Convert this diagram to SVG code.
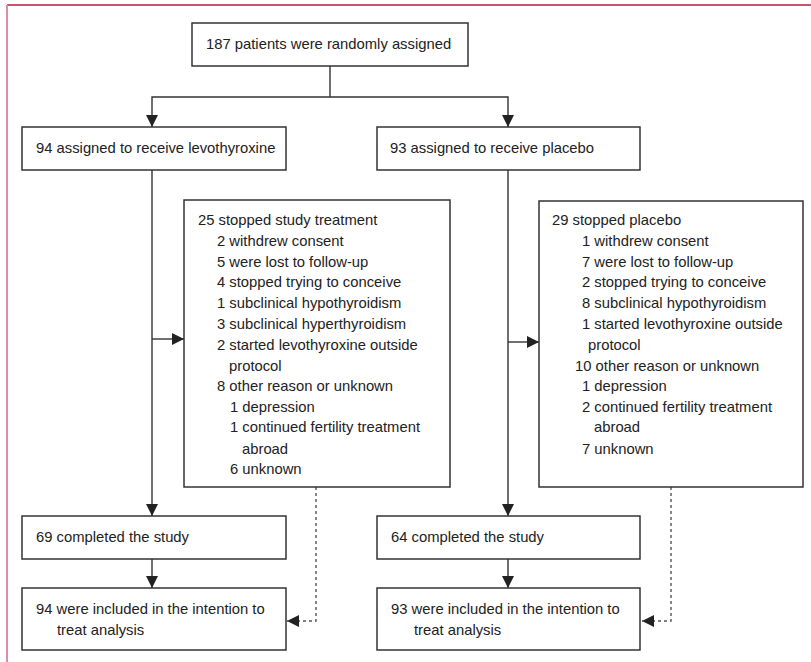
<svg xmlns="http://www.w3.org/2000/svg" width="811" height="662" viewBox="0 0 811 662">
<style>
  .box { fill: #ffffff; stroke: #333333; stroke-width: 1.5; }
  .t { font-family: "Liberation Sans", Arial, sans-serif; font-size: 14.8px; fill: #222222; }
  .ln { fill: none; stroke: #333333; stroke-width: 1.4; }
  .dash { fill: none; stroke: #555555; stroke-width: 1.4; stroke-dasharray: 3 3; }
</style>
<defs>
  <marker id="ah" viewBox="0 0 10 10" markerWidth="12" markerHeight="12" refX="10" refY="5" orient="auto" markerUnits="userSpaceOnUse">
    <path d="M0,0 L10,5 L0,10 z" fill="#222222"/>
  </marker>
</defs>
<rect width="811" height="662" fill="#ffffff"/>
<g id="frame">
  <line x1="7" y1="5" x2="811" y2="5" stroke="#b8183f" stroke-width="1.5"/>
  <line x1="7" y1="5" x2="7" y2="662" stroke="#e08aa3" stroke-width="2"/>
</g>
<g id="connectors">
  <path class="ln" d="M330 66 V97"/>
  <path class="ln" d="M330 97 H152 V127" marker-end="url(#ah)"/>
  <path class="ln" d="M330 97 H508 V127" marker-end="url(#ah)"/>
  <path class="ln" d="M152 170 V516" marker-end="url(#ah)"/>
  <path class="ln" d="M152 339 H184" marker-end="url(#ah)"/>
  <path class="ln" d="M508 170 V516" marker-end="url(#ah)"/>
  <path class="ln" d="M508 342 H539" marker-end="url(#ah)"/>
  <path class="ln" d="M152 559 V588" marker-end="url(#ah)"/>
  <path class="ln" d="M508 559 V588" marker-end="url(#ah)"/>
  <path class="dash" d="M316 487 V621 H287" marker-end="url(#ah)"/>
  <path class="dash" d="M671 487 V621 H642" marker-end="url(#ah)"/>
</g>
<g id="randomised">
  <rect class="box" x="192" y="23" width="276" height="43"/>
  <text class="t" x="206" y="49">187 patients were randomly assigned</text>
</g>
<g id="levo-assigned">
  <rect class="box" x="22" y="127" width="264" height="43"/>
  <text class="t" x="36" y="153">94 assigned to receive levothyroxine</text>
</g>
<g id="placebo-assigned">
  <rect class="box" x="377" y="127" width="263" height="43"/>
  <text class="t" x="390" y="153">93 assigned to receive placebo</text>
</g>
<g id="levo-stopped">
  <rect class="box" x="184" y="200" width="266" height="287"/>
  <text class="t">
    <tspan x="198" y="225">25 stopped study treatment</tspan>
    <tspan x="217" y="246">2 withdrew consent</tspan>
    <tspan x="217" y="267">5 were lost to follow-up</tspan>
    <tspan x="217" y="287">4 stopped trying to conceive</tspan>
    <tspan x="217" y="308">1 subclinical hypothyroidism</tspan>
    <tspan x="217" y="329">3 subclinical hyperthyroidism</tspan>
    <tspan x="217" y="350">2 started levothyroxine outside</tspan>
    <tspan x="229" y="371">protocol</tspan>
    <tspan x="217" y="391">8 other reason or unknown</tspan>
    <tspan x="230" y="412">1 depression</tspan>
    <tspan x="230" y="432">1 continued fertility treatment</tspan>
    <tspan x="242" y="454">abroad</tspan>
    <tspan x="230" y="474">6 unknown</tspan>
  </text>
</g>
<g id="placebo-stopped">
  <rect class="box" x="539" y="201" width="264" height="286"/>
  <text class="t">
    <tspan x="552" y="225">29 stopped placebo</tspan>
    <tspan x="582" y="246">1 withdrew consent</tspan>
    <tspan x="582" y="267">7 were lost to follow-up</tspan>
    <tspan x="582" y="287">2 stopped trying to conceive</tspan>
    <tspan x="582" y="308">8 subclinical hypothyroidism</tspan>
    <tspan x="582" y="329">1 started levothyroxine outside</tspan>
    <tspan x="588" y="350">protocol</tspan>
    <tspan x="575" y="371">10 other reason or unknown</tspan>
    <tspan x="582" y="391">1 depression</tspan>
    <tspan x="582" y="412">2 continued fertility treatment</tspan>
    <tspan x="594" y="432">abroad</tspan>
    <tspan x="582" y="454">7 unknown</tspan>
  </text>
</g>
<g id="levo-completed">
  <rect class="box" x="22" y="516" width="264" height="43"/>
  <text class="t" x="36" y="542">69 completed the study</text>
</g>
<g id="placebo-completed">
  <rect class="box" x="377" y="516" width="263" height="43"/>
  <text class="t" x="391" y="542">64 completed the study</text>
</g>
<g id="levo-itt">
  <rect class="box" x="22" y="588" width="264" height="62"/>
  <text class="t"><tspan x="36" y="614">94 were included in the intention to</tspan><tspan x="57" y="635">treat analysis</tspan></text>
</g>
<g id="placebo-itt">
  <rect class="box" x="377" y="588" width="263" height="62"/>
  <text class="t"><tspan x="391" y="614">93  were included in the intention to</tspan><tspan x="414" y="635">treat analysis</tspan></text>
</g>
</svg>
